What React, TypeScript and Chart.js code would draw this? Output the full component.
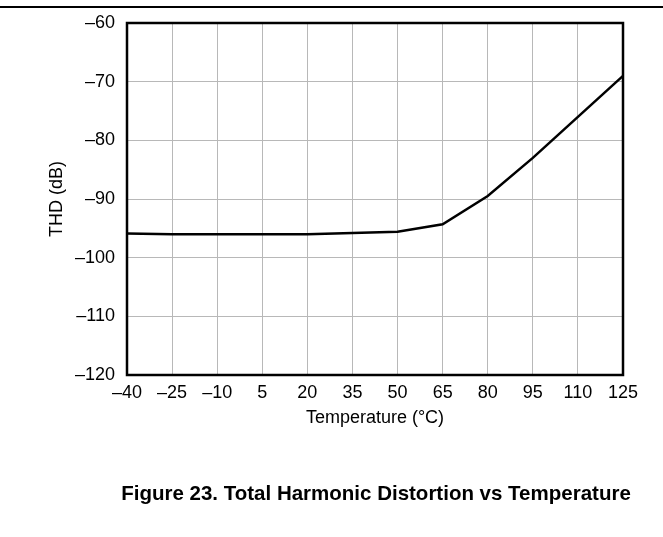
import React, { useEffect, useRef } from "react";
import { Chart, registerables } from "chart.js";

Chart.register(...registerables);

const temperatures = [-40, -25, -10, 5, 20, 35, 50, 65, 80, 95, 110, 125];
const thdValues = [-95.9, -96.0, -96.0, -96.0, -96.0, -95.8, -95.6, -94.3, -89.5, -83.0, -76.0, -69.0];
const xTicks = [-40, -25, -10, 5, 20, 35, 50, 65, 80, 95, 110, 125];
const yTicks = [-120, -110, -100, -90, -80, -70, -60];

const FONT = "'Liberation Sans', Arial, sans-serif";
const minus = (v: number) => String(v).replace("-", "\u2013");

const frame = {
  id: "frame",
  afterDatasetsDraw(chart: any) {
    const { ctx, chartArea } = chart;
    ctx.save();
    ctx.strokeStyle = "#000";
    ctx.lineWidth = 2.5;
    ctx.strokeRect(chartArea.left, chartArea.top, chartArea.right - chartArea.left, chartArea.bottom - chartArea.top);
    ctx.restore();
  },
};

export default function App() {
  const ref = useRef<HTMLCanvasElement>(null);
  useEffect(() => {
    if (!ref.current) return;
    const chart = new Chart(ref.current, {
      type: "line",
      data: {
        datasets: [
          {
            data: temperatures.map((t, i) => ({ x: t, y: thdValues[i] })),
            borderColor: "#000",
            borderWidth: 2.5,
            pointRadius: 0,
            tension: 0,
            fill: false,
          },
        ],
      },
      options: {
        animation: false,
        responsive: false,
        maintainAspectRatio: false,
        layout: { padding: { left: 42, top: 23, right: 40, bottom: 104 } },
        plugins: { legend: { display: false }, tooltip: { enabled: false } },
        scales: {
          x: {
            type: "linear",
            min: -40,
            max: 125,
            afterBuildTicks: (s: any) => {
              s.ticks = xTicks.map((v) => ({ value: v }));
            },
            afterFit: (s: any) => {
              s.height = 58;
            },
            ticks: {
              padding: 7,
              color: "#000",
              font: { family: FONT, size: 18 },
              callback: (v: any) => minus(v),
              maxRotation: 0,
            },
            grid: { color: "#b8b8b8", lineWidth: 1, drawTicks: false },
            border: { display: false },
            title: {
              display: true,
              text: "Temperature (°C)",
              color: "#000",
              font: { family: FONT, size: 18 },
            },
          },
          y: {
            type: "linear",
            min: -120,
            max: -60,
            afterBuildTicks: (s: any) => {
              s.ticks = yTicks.map((v) => ({ value: v }));
            },
            afterFit: (s: any) => {
              s.width = 85;
            },
            ticks: {
              padding: 12,
              color: "#000",
              font: { family: FONT, size: 18 },
              callback: (v: any) => minus(v),
            },
            grid: { color: "#b8b8b8", lineWidth: 1, drawTicks: false },
            border: { display: false },
            title: {
              display: true,
              text: "THD (dB)",
              color: "#000",
              font: { family: FONT, size: 18 },
            },
          },
        },
      },
      plugins: [frame],
    });
    return () => chart.destroy();
  }, []);

  return (
    <div style={{ position: "fixed", left: 0, top: 0, width: 663, height: 537, background: "#fff" }}>
      <div style={{ position: "absolute", left: 0, top: 6, width: 663, height: 1.5, background: "#000" }} />
      <canvas ref={ref} width={663} height={537} style={{ position: "absolute", left: 0, top: 0 }} />
      <div
        style={{
          position: "absolute",
          left: 376,
          top: 493,
          transform: "translate(-50%, -50%)",
          whiteSpace: "nowrap",
          fontFamily: FONT,
          fontWeight: "bold",
          fontSize: 20.5,
          color: "#000",
        }}
      >
        Figure 23. Total Harmonic Distortion vs Temperature
      </div>
    </div>
  );
}
